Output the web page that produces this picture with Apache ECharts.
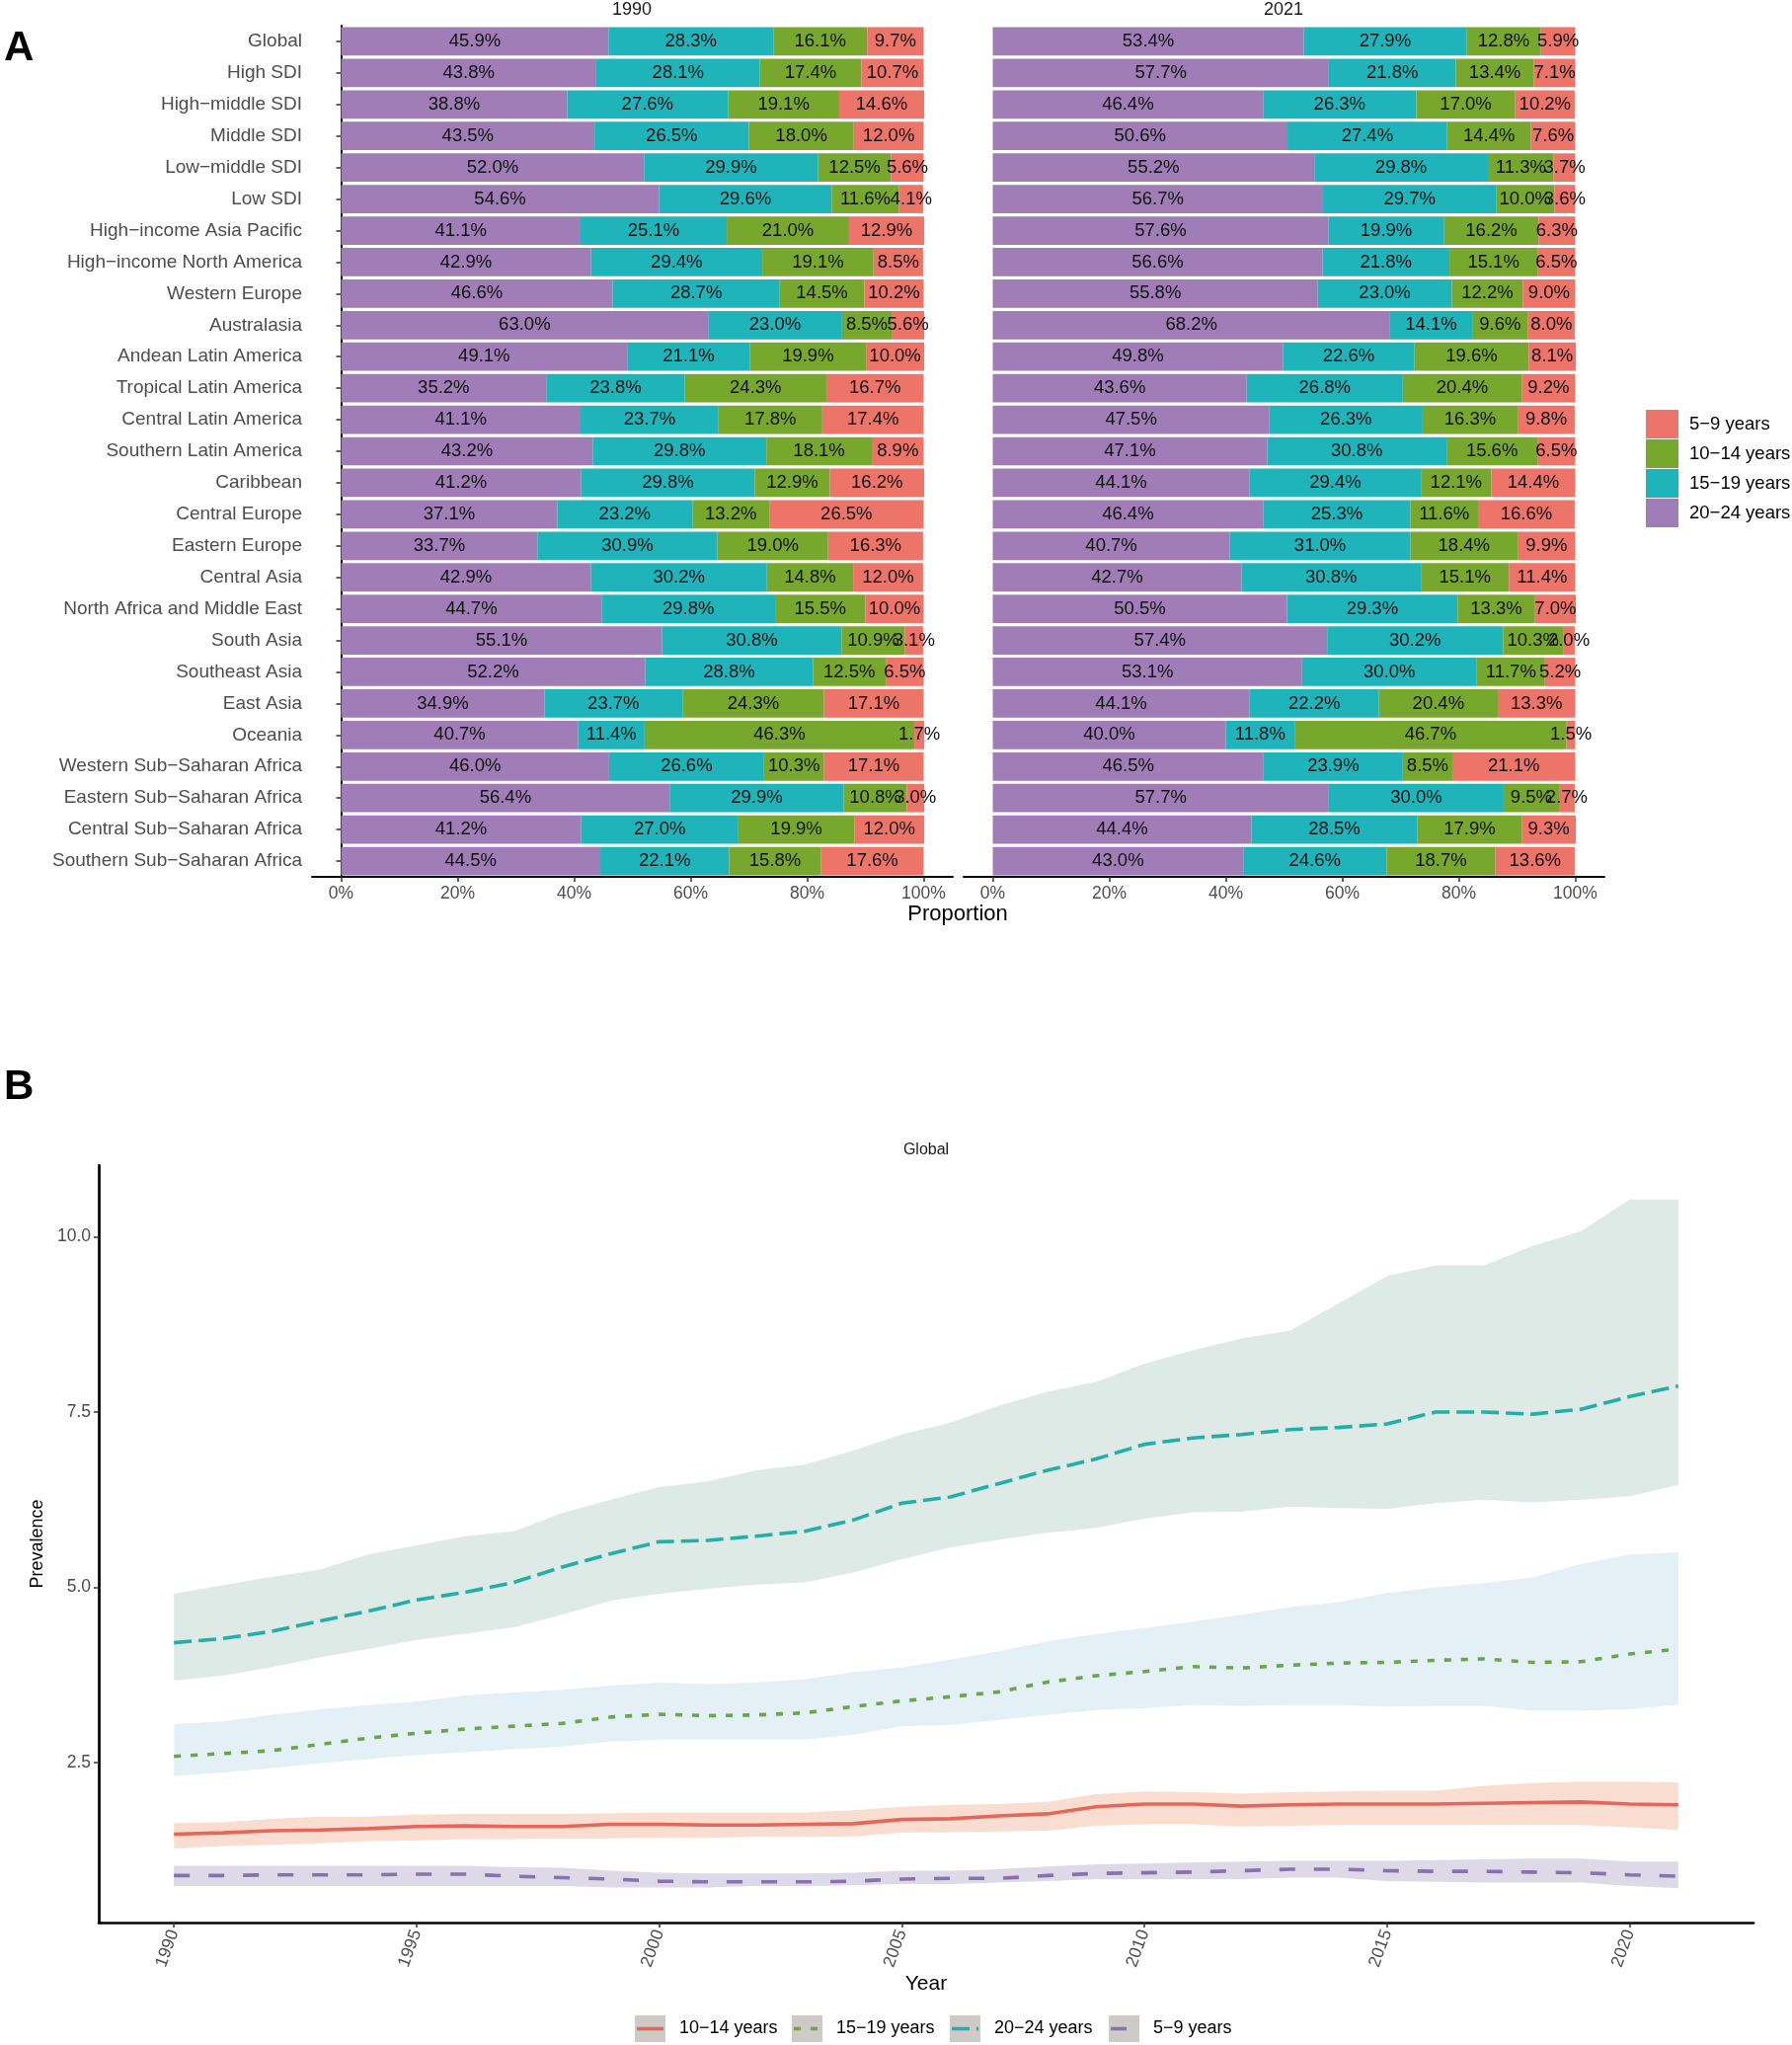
<!DOCTYPE html>
<html>
<head>
<meta charset="utf-8">
<script src="https://cdn.jsdelivr.net/npm/echarts@6/dist/echarts.min.js"></script>
<style>
html,body{margin:0;padding:0;background:#fff;}
#chart{width:1815px;height:2071px;}
</style>
</head>
<body>
<div id="chart"></div>
<script>
// ---------- Panel A data ----------
const categories = ['Global','High SDI','High\u2212middle SDI','Middle SDI','Low\u2212middle SDI','Low SDI',
  'High\u2212income Asia Pacific','High\u2212income North America','Western Europe','Australasia',
  'Andean Latin America','Tropical Latin America','Central Latin America','Southern Latin America','Caribbean',
  'Central Europe','Eastern Europe','Central Asia','North Africa and Middle East','South Asia','Southeast Asia',
  'East Asia','Oceania','Western Sub\u2212Saharan Africa','Eastern Sub\u2212Saharan Africa',
  'Central Sub\u2212Saharan Africa','Southern Sub\u2212Saharan Africa'];
const facetYears = ['1990','2021'];
const ageGroups = ['20\u221224 years','15\u221219 years','10\u221214 years','5\u22129 years'];
const legendOrderA = ['5\u22129 years','10\u221214 years','15\u221219 years','20\u221224 years'];
const xTicksA = [0,20,40,60,80,100];

const p1990_20_24 = [45.9,43.8,38.8,43.5,52.0,54.6,41.1,42.9,46.6,63.0,49.1,35.2,41.1,43.2,41.2,37.1,33.7,42.9,44.7,55.1,52.2,34.9,40.7,46.0,56.4,41.2,44.5];
const p1990_15_19 = [28.3,28.1,27.6,26.5,29.9,29.6,25.1,29.4,28.7,23.0,21.1,23.8,23.7,29.8,29.8,23.2,30.9,30.2,29.8,30.8,28.8,23.7,11.4,26.6,29.9,27.0,22.1];
const p1990_10_14 = [16.1,17.4,19.1,18.0,12.5,11.6,21.0,19.1,14.5,8.5,19.9,24.3,17.8,18.1,12.9,13.2,19.0,14.8,15.5,10.9,12.5,24.3,46.3,10.3,10.8,19.9,15.8];
const p1990_5_9   = [9.7,10.7,14.6,12.0,5.6,4.1,12.9,8.5,10.2,5.6,10.0,16.7,17.4,8.9,16.2,26.5,16.3,12.0,10.0,3.1,6.5,17.1,1.7,17.1,3.0,12.0,17.6];

const p2021_20_24 = [53.4,57.7,46.4,50.6,55.2,56.7,57.6,56.6,55.8,68.2,49.8,43.6,47.5,47.1,44.1,46.4,40.7,42.7,50.5,57.4,53.1,44.1,40.0,46.5,57.7,44.4,43.0];
const p2021_15_19 = [27.9,21.8,26.3,27.4,29.8,29.7,19.9,21.8,23.0,14.1,22.6,26.8,26.3,30.8,29.4,25.3,31.0,30.8,29.3,30.2,30.0,22.2,11.8,23.9,30.0,28.5,24.6];
const p2021_10_14 = [12.8,13.4,17.0,14.4,11.3,10.0,16.2,15.1,12.2,9.6,19.6,20.4,16.3,15.6,12.1,11.6,18.4,15.1,13.3,10.3,11.7,20.4,46.7,8.5,9.5,17.9,18.7];
const p2021_5_9   = [5.9,7.1,10.2,7.6,3.7,3.6,6.3,6.5,9.0,8.0,8.1,9.2,9.8,6.5,14.4,16.6,9.9,11.4,7.0,2.0,5.2,13.3,1.5,21.1,2.7,9.3,13.6];

// ---------- Panel B data ----------
const years = [1990,1991,1992,1993,1994,1995,1996,1997,1998,1999,2000,2001,2002,2003,2004,2005,2006,2007,2008,2009,2010,2011,2012,2013,2014,2015,2016,2017,2018,2019,2020,2021];
const xTicksB = [1990,1995,2000,2005,2010,2015,2020];
const yTicksB = [2.5,5.0,7.5,10.0];

const prev_10_14  = [1.48,1.50,1.53,1.54,1.56,1.59,1.60,1.59,1.59,1.62,1.62,1.61,1.61,1.62,1.63,1.69,1.70,1.74,1.77,1.87,1.91,1.91,1.88,1.90,1.91,1.91,1.91,1.92,1.93,1.94,1.91,1.90];
const upper_10_14 = [1.64,1.65,1.70,1.73,1.73,1.76,1.77,1.77,1.77,1.78,1.79,1.79,1.79,1.79,1.82,1.87,1.90,1.91,1.94,2.05,2.09,2.08,2.06,2.08,2.09,2.10,2.10,2.17,2.21,2.23,2.23,2.22];
const lower_10_14 = [1.28,1.31,1.33,1.35,1.38,1.39,1.41,1.41,1.42,1.42,1.43,1.43,1.44,1.44,1.45,1.50,1.51,1.52,1.53,1.60,1.62,1.62,1.59,1.60,1.61,1.61,1.61,1.61,1.61,1.61,1.58,1.54];

const prev_15_19  = [2.59,2.63,2.67,2.76,2.85,2.92,2.98,3.02,3.06,3.15,3.19,3.17,3.18,3.21,3.30,3.38,3.44,3.51,3.65,3.74,3.80,3.87,3.85,3.89,3.92,3.93,3.96,3.98,3.93,3.94,4.05,4.12];
const upper_15_19 = [3.05,3.09,3.18,3.26,3.32,3.37,3.46,3.50,3.54,3.60,3.64,3.62,3.64,3.69,3.79,3.86,3.97,4.09,4.23,4.33,4.42,4.51,4.61,4.72,4.79,4.92,5.00,5.06,5.14,5.33,5.47,5.50];
const lower_15_19 = [2.31,2.36,2.42,2.49,2.55,2.61,2.65,2.69,2.73,2.80,2.83,2.83,2.83,2.83,2.90,3.02,3.04,3.11,3.18,3.25,3.28,3.32,3.31,3.32,3.32,3.30,3.31,3.31,3.24,3.24,3.26,3.33];

const prev_20_24  = [4.21,4.27,4.37,4.52,4.66,4.82,4.93,5.07,5.29,5.48,5.65,5.67,5.73,5.80,5.96,6.20,6.29,6.48,6.67,6.83,7.04,7.13,7.18,7.25,7.28,7.33,7.50,7.50,7.47,7.54,7.72,7.87];
const upper_20_24 = [4.91,5.03,5.15,5.25,5.47,5.60,5.73,5.80,6.06,6.25,6.43,6.51,6.67,6.75,6.95,7.18,7.35,7.59,7.79,7.93,8.19,8.38,8.55,8.66,9.05,9.44,9.59,9.59,9.87,10.08,10.53,10.53];
const lower_20_24 = [3.67,3.74,3.86,4.00,4.12,4.25,4.34,4.43,4.61,4.81,4.91,4.98,5.04,5.07,5.21,5.40,5.57,5.68,5.78,5.85,5.98,6.07,6.08,6.15,6.13,6.12,6.20,6.25,6.21,6.25,6.30,6.46];

const prev_5_9  = [0.89,0.89,0.90,0.90,0.90,0.91,0.91,0.88,0.86,0.84,0.81,0.80,0.80,0.80,0.81,0.84,0.85,0.85,0.89,0.92,0.93,0.94,0.96,0.98,0.98,0.96,0.95,0.95,0.94,0.93,0.90,0.88];
const upper_5_9 = [1.03,1.03,1.03,1.03,1.03,1.03,1.03,1.01,1.00,0.96,0.93,0.92,0.92,0.92,0.93,0.96,0.96,0.98,1.02,1.05,1.06,1.08,1.09,1.10,1.10,1.10,1.11,1.12,1.13,1.13,1.09,1.09];
const lower_5_9 = [0.74,0.74,0.74,0.74,0.74,0.74,0.74,0.74,0.74,0.72,0.72,0.72,0.74,0.74,0.75,0.77,0.77,0.79,0.81,0.84,0.84,0.84,0.84,0.86,0.86,0.81,0.80,0.79,0.79,0.79,0.74,0.71];

const seriesNamesB = ['10\u221214 years','15\u221219 years','20\u221224 years','5\u22129 years'];

// ---------- styles ----------
const FONT = 'Liberation Sans, Arial, Helvetica, sans-serif';
const barColors = {'20\u221224 years':'#A07DB7','15\u221219 years':'#1FB4BA','10\u221214 years':'#77A72D','5\u22129 years':'#EC7469'};
const lineColorsB = ['#E4675B','#6BA547','#22AFA8','#8771AF'];
const bandColorsB = ['#F9DDD1','#E3F0F6','#DDEAE6','#DDD9E7'];
const dashB = ['solid',[7,10],[18,7],[16,19]];

const dataA = [
  [p1990_20_24,p1990_15_19,p1990_10_14,p1990_5_9],
  [p2021_20_24,p2021_15_19,p2021_10_14,p2021_5_9]
];
const prevB = [prev_10_14,prev_15_19,prev_20_24,prev_5_9];
const upperB = [upper_10_14,upper_15_19,upper_20_24,upper_5_9];
const lowerB = [lower_10_14,lower_15_19,lower_20_24,lower_5_9];

const chart = echarts.init(document.getElementById('chart'), null, {renderer:'canvas'});

const gridA = [
  {left:316, width:649, top:26, height:862},
  {left:976, width:649, top:26, height:862}
];
const gridB = {left:100, width:1676, top:1180, height:767};

const xAxes = [0,1].map(i => ({
  type:'value', gridIndex:i, min:-5, max:105,
  axisLine:{show:true, lineStyle:{color:'#000', width:2}},
  axisTick:{show:true, length:5, lineStyle:{color:'#333', width:1.5}, customValues:xTicksA},
  axisLabel:{show:true, color:'#4D4D4D', fontSize:17.5, fontFamily:FONT, margin:8, customValues:xTicksA, formatter:v=>v+'%'},
  splitLine:{show:false}
}));
xAxes.push({
  type:'value', gridIndex:2, min:1988.45, max:2022.55,
  name:'Year', nameLocation:'middle', nameGap:46,
  nameTextStyle:{fontSize:21, color:'#000', fontFamily:FONT},
  axisLine:{show:true, lineStyle:{color:'#000', width:2.7}},
  axisTick:{show:true, length:5, lineStyle:{color:'#333', width:1.5}, customValues:xTicksB},
  axisLabel:{show:true, color:'#4D4D4D', fontSize:17.5, fontFamily:FONT, rotate:70, margin:8, customValues:xTicksB, formatter:v=>String(v)},
  splitLine:{show:false}
});

const yAxes = [0,1].map(i => ({
  type:'category', gridIndex:i, data:categories, inverse:true,
  axisLine:{show:i===0, lineStyle:{color:'#000', width:2}},
  axisTick:{show:i===0, alignWithLabel:true, length:5, lineStyle:{color:'#333', width:1.5}},
  axisLabel:{show:i===0, color:'#4D4D4D', fontSize:19, fontFamily:FONT, margin:10},
  splitLine:{show:false}
}));
yAxes.push({
  type:'value', gridIndex:2, min:0.22, max:11.02,
  name:'Prevalence', nameLocation:'middle', nameGap:52, nameRotate:90,
  nameTextStyle:{fontSize:18, color:'#000', fontFamily:FONT},
  axisLine:{show:true, lineStyle:{color:'#000', width:2.7}},
  axisTick:{show:true, length:5, lineStyle:{color:'#333', width:1.5}, customValues:yTicksB},
  axisLabel:{show:true, color:'#4D4D4D', fontSize:17.5, fontFamily:FONT, margin:8, customValues:yTicksB, formatter:v=>v.toFixed(1)},
  splitLine:{show:false}
});

const series = [];
// Panel A bars
dataA.forEach((groups, fi) => {
  groups.forEach((vals, gi) => {
    const name = ageGroups[gi];
    series.push({
      type:'bar', name:name, stack:'facet'+fi, xAxisIndex:fi, yAxisIndex:fi,
      data:vals, barWidth:'90%', barCategoryGap:'10%',
      itemStyle:{color:barColors[name]},
      label:{show:true, position:'inside', color:'#111', fontSize:18.5, fontFamily:FONT,
             formatter:p=>p.value.toFixed(1)+'%'},
      emphasis:{disabled:true}, animation:false
    });
  });
});
// Panel B ribbons (uncertainty intervals)
prevB.forEach((vals, si) => {
  const up = upperB[si], lo = lowerB[si];
  series.push({
    type:'custom', name:seriesNamesB[si]+' UI', xAxisIndex:2, yAxisIndex:2, z:1,
    silent:true, animation:false,
    data:[[years[0], lo[0]]],
    renderItem:(params, api) => {
      const pts = [];
      for (let i=0;i<years.length;i++) pts.push(api.coord([years[i], up[i]]));
      for (let i=years.length-1;i>=0;i--) pts.push(api.coord([years[i], lo[i]]));
      return {type:'polygon', shape:{points:pts}, style:{fill:bandColorsB[si]}};
    }
  });
});
// Panel B lines
prevB.forEach((vals, si) => {
  series.push({
    type:'line', name:seriesNamesB[si], xAxisIndex:2, yAxisIndex:2, z:5,
    data:years.map((y,i)=>[y, vals[i]]), symbol:'none', smooth:false,
    lineStyle:{color:lineColorsB[si], width:3.6, type:dashB[si], cap:'butt'},
    itemStyle:{color:lineColorsB[si]}, animation:false
  });
});

// Legend B (graphic)
const legendKeyX = [643, 802, 962, 1123];
const legendB = [];
seriesNamesB.forEach((n, i) => {
  const x = legendKeyX[i];
  legendB.push({type:'rect', shape:{x:x, y:2041, width:31, height:27}, style:{fill:'#CECBC7'}});
  legendB.push({type:'line', shape:{x1:x+2, y1:2054.5, x2:x+29, y2:2054.5},
    style:{stroke:lineColorsB[i], lineWidth:3.6, lineDash: dashB[i]==='solid'?null:dashB[i]}});
  legendB.push({type:'text', x:x+45, y:2054.5, style:{text:n, font:'18px '+FONT, fill:'#000', textAlign:'left', textVerticalAlign:'middle'}});
});

const option = {
  backgroundColor:'#fff',
  animation:false,
  grid:[gridA[0], gridA[1], gridB],
  xAxis:xAxes,
  yAxis:yAxes,
  legend:{
    data:legendOrderA, orient:'vertical', left:1662, top:410,
    icon:'rect', itemWidth:33, itemHeight:29, itemGap:1,
    textStyle:{fontSize:18.5, color:'#000', fontFamily:FONT, padding:[0,0,0,6]},
    selectedMode:false
  },
  series:series,
  graphic:[
    {type:'text', x:4, y:28, style:{text:'A', font:'bold 42px '+FONT, fill:'#000'}},
    {type:'text', x:4, y:1080, style:{text:'B', font:'bold 42px '+FONT, fill:'#000'}},
    {type:'text', x:640, y:10, style:{text:facetYears[0], font:'18px '+FONT, fill:'#1A1A1A', textAlign:'center', textVerticalAlign:'middle'}},
    {type:'text', x:1300, y:10, style:{text:facetYears[1], font:'18px '+FONT, fill:'#1A1A1A', textAlign:'center', textVerticalAlign:'middle'}},
    {type:'text', x:970, y:926, style:{text:'Proportion', font:'22px '+FONT, fill:'#000', textAlign:'center', textVerticalAlign:'middle'}},
    {type:'text', x:938, y:1165, style:{text:'Global', font:'16px '+FONT, fill:'#1A1A1A', textAlign:'center', textVerticalAlign:'middle'}}
  ].concat(legendB)
};
chart.setOption(option);
</script>
</body>
</html>
